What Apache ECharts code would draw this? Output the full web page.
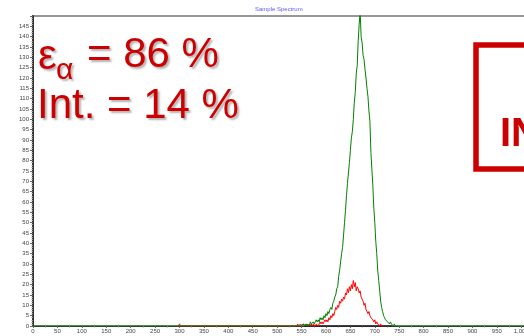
<!DOCTYPE html>
<html>
<head>
<meta charset="utf-8">
<script src="https://cdn.jsdelivr.net/npm/echarts@6/dist/echarts.min.js"></script>
<style>
html,body{margin:0;padding:0;background:#fff;}
#chart{width:524px;height:336px;}
</style>
</head>
<body>
<div id="chart"></div>
<script>
// ---- data ----
var title = 'Sample Spectrum';
var xTickStep = 50;
var yTickStep = 5;
var xMax = 1024;
var yMax = 150;

var greenChannels = [0, 548,
  550,552,554,556,558,560,562,564,566,568,570,572,574,576,578,580,582,584,586,588,
  590,592,594,596,598,600,602,604,606,608,610,612,614,616,618,620,622,624,626,628,
  630,632,634,636,638,640,642,644,646,648,650,652,654,656,658,660,662,664,666,668,
  670,672,674,676,678,680,682,684,686,688,690,692,694,696,698,700,702,704,706,708,
  710,712,714,716,718,720,722,724,726,728,730,732,734,736,738,740,742,744,746,
  1024];
var greenCounts = [0, 0,
  0,0,1,0,1,0,1,1,0,2,1,1,2,1,2,3,2,3,2,4,
  3,4,3,5,4,6,5,7,6,8,9,8,11,12,14,15,18,19,24,27,
  31,35,38,44,50,56,63,69,74,79,85,91,94,100,108,113,122,126,138,146,
  152,140,137,131,129,124,120,115,111,104,99,84,76,68,57,50,41,35,27,22,
  17,12,9,7,5,4,3,3,2,2,1,2,1,1,0,1,0,0,0,
  0];

var redChannels = [298,300,302,
  540,542,544,546,548,550,552,554,556,558,560,562,564,566,568,570,572,574,576,578,
  580,582,584,586,588,590,592,594,596,598,600,602,604,606,608,610,612,614,616,618,
  620,622,624,626,628,630,632,634,636,638,640,642,644,646,648,650,652,654,656,658,
  660,662,664,666,668,670,672,674,676,678,680,682,684,686,688,690,692,694,696,698,
  700,702,704,706,708,710,712,714,716,720];
var redCounts = [0,1,0,
  0,1,0,0,1,0,0,1,0,0,1,0,0,1,0,1,0,1,1,0,
  1,1,0,1,2,1,2,1,2,3,2,3,2,4,3,5,4,6,5,7,
  9,8,10,9,12,11,13,12,14,13,16,15,18,16,19,17,20,18,22,19,
  21,17,19,18,16,17,14,13,12,10,11,8,8,6,7,5,4,4,3,2,
  3,1,2,1,1,0,1,0,0,0];

var blackChannels = [555, 735];
var blackCounts = [0, 0];

var epsLine = ['\u03b5', '\u03b1', '= 86 %'];
var intLine = 'Int. = 14 %';
var boxText = 'IN';

function pairs(xs, ys){ var o=[]; for (var i=0;i<xs.length;i++) o.push([xs[i], ys[i]]); return o; }

var chart = echarts.init(document.getElementById('chart'), null, {renderer:'canvas'});
var FONT = 'Liberation Sans, Arial, sans-serif';
var bigStyle = {
  fill: '#cc0000', fontFamily: FONT, fontSize: 42,
  textShadowColor: 'rgba(0,0,0,0.3)', textShadowOffsetX: 2, textShadowOffsetY: 2, textShadowBlur: 2,
  textVerticalAlign: 'middle', verticalAlign: 'middle'
};
function st(extra){ var o={}; for (var k in bigStyle) o[k]=bigStyle[k]; for (var k2 in extra) o[k2]=extra[k2]; return o; }

var option = {
  animation: false,
  backgroundColor: '#fff',
  grid: { left: 33, width: 500, top: 16, bottom: 10, outerBoundsMode: 'none', containLabel: false,
    show: true, borderColor: '#777', borderWidth: 1.5, backgroundColor: 'transparent' },
  xAxis: {
    type: 'value', min: 0, max: xMax, interval: xTickStep,
    axisLine: { show: true, onZero: false, lineStyle: { color: '#333', width: 1 } },
    axisTick: { show: true, length: 2, lineStyle: { color: '#666' } },
    minorTick: { show: true, splitNumber: 2, length: 1.5, lineStyle: { color: '#888' } },
    splitLine: { show: false },
    axisLabel: { fontSize: 6, color: '#444', margin: 2, fontFamily: FONT, showMaxLabel: false, hideOverlap: false,
      formatter: function(v){ return v >= 1000 ? (Math.floor(v/1000) + ',' + ('00' + (v%1000)).slice(-3)) : String(v); } }
  },
  yAxis: {
    type: 'value', min: 0, max: yMax, interval: yTickStep,
    axisLine: { show: true, lineStyle: { color: '#333', width: 2 } },
    axisTick: { show: true, length: 3, lineStyle: { color: '#666' } },
    minorTick: { show: true, splitNumber: 5, length: 1.5, lineStyle: { color: '#999' } },
    splitLine: { show: false },
    axisLabel: { fontSize: 6, color: '#444', margin: 4, fontFamily: FONT, showMaxLabel: false }
  },
  series: [
    { type: 'line', data: pairs(blackChannels, blackCounts), showSymbol: false, symbol: 'none',
      lineStyle: { color: '#222', width: 1.5 }, z: 2 },
    { type: 'line', data: pairs(redChannels, redCounts), showSymbol: false, symbol: 'none',
      lineStyle: { color: '#ff0000', width: 1 }, z: 3 },
    { type: 'line', data: pairs(greenChannels, greenCounts), showSymbol: false, symbol: 'none',
      lineStyle: { color: '#008000', width: 1 }, z: 4 }
  ],
  graphic: [
    { type: 'text', left: 255, top: 6, z: 10,
      style: { text: title, fill: '#5a5aff', fontSize: 6, fontFamily: FONT } },
    { type: 'text', x: 38, y: 57, z: 100, style: st({ text: epsLine[0] }) },
    { type: 'text', x: 56, y: 71, z: 100, style: st({ text: epsLine[1], fontSize: 30 }) },
    { type: 'text', x: 87, y: 55, z: 100, style: st({ text: epsLine[2] }) },
    { type: 'text', x: 37, y: 106, z: 100, style: st({ text: intLine }) },
    { type: 'rect', z: 100, shape: { x: 476, y: 45, width: 80, height: 124 },
      style: { fill: 'rgba(255,255,255,0)', stroke: '#cc0000', lineWidth: 5.5 } },
    { type: 'text', x: 500, y: 135, z: 100,
      style: { text: boxText, fill: '#cc0000', fontFamily: FONT, fontWeight: 'bold', fontSize: 40,
        textVerticalAlign: 'middle', verticalAlign: 'middle' } }
  ]
};
chart.setOption(option);
</script>
</body>
</html>
